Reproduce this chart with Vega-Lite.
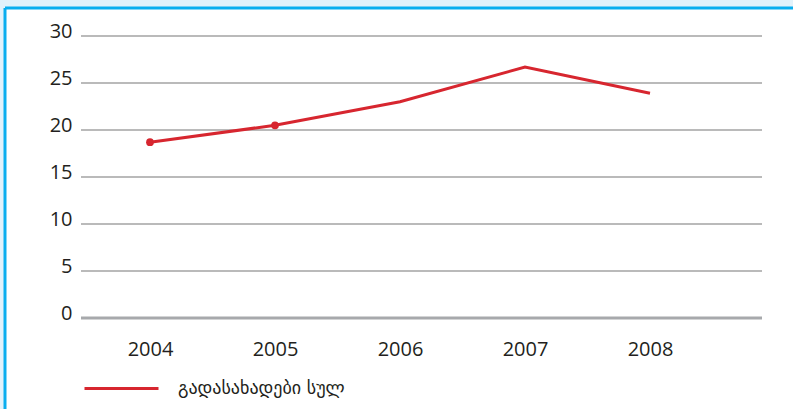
{
  "$schema": "https://vega.github.io/schema/vega-lite/v6.json",
  "width": 788.5,
  "height": 401.5,
  "autosize": {"type": "none"},
  "padding": {"left": 4.5, "top": 7.5, "right": 0, "bottom": 0},
  "background": "#e2f2fb",
  "config": {
    "view": {"fill": "white", "stroke": null},
    "axis": {"labelColor": "#231f20", "labelFont": "Open Sans", "labelFontSize": 20, "title": null, "ticks": false, "grid": false, "labelFlush": false, "labelOverlap": false}
  },
  "datasets": {
    "taxes": [
      {"year": 2004, "value": 18.7},
      {"year": 2005, "value": 20.5},
      {"year": 2006, "value": 23.0},
      {"year": 2007, "value": 26.7},
      {"year": 2008, "value": 23.9}
    ],
    "grid": [{"v": 0}, {"v": 5}, {"v": 10}, {"v": 15}, {"v": 20}, {"v": 25}, {"v": 30}]
  },
  "layer": [
    {
      "data": {"name": "grid"},
      "transform": [{"filter": "datum.v > 0"}],
      "mark": {"type": "rule", "color": "#a3a3a3", "strokeWidth": 1.5},
      "encoding": {
        "y": {
          "field": "v", "type": "quantitative",
          "scale": {"domain": [-9.681, 33.032], "nice": false, "zero": false},
          "axis": {"orient": "left", "values": [0, 5, 10, 15, 20, 25, 30], "labelPadding": -67.5, "labelAlign": "right", "labelBaseline": "alphabetic", "labelOffset": 1.5, "domain": true, "domainColor": "#0aaeef", "domainWidth": 3}
        },
        "x": {
          "datum": 2003.448, "type": "quantitative",
          "scale": {"domain": [2002.836, 2009.144], "nice": false, "zero": false},
          "axis": {"orient": "top", "values": [2004, 2005, 2006, 2007, 2008], "format": "d", "labelPadding": -332, "labelBaseline": "top", "labelAlign": "center", "domain": true, "domainColor": "#0aaeef", "domainWidth": 3}
        },
        "x2": {"datum": 2008.896}
      }
    },
    {
      "data": {"name": "grid"},
      "transform": [{"filter": "datum.v == 0"}],
      "mark": {"type": "rule", "color": "#a7a9ac", "strokeWidth": 3},
      "encoding": {
        "y": {"field": "v", "type": "quantitative"},
        "x": {"datum": 2003.448, "type": "quantitative"},
        "x2": {"datum": 2008.896}
      }
    },
    {
      "data": {"name": "taxes"},
      "mark": {"type": "line", "strokeWidth": 3},
      "encoding": {
        "x": {"field": "year", "type": "quantitative"},
        "y": {"field": "value", "type": "quantitative"},
        "color": {
          "datum": "გადასახადები სულ",
          "type": "nominal",
          "scale": {"range": ["#d7262f"]},
          "legend": {"orient": "none", "legendX": 78.5, "legendY": 342.5, "title": null, "padding": 0, "symbolType": "stroke", "symbolSize": 5476, "symbolStrokeWidth": 3, "labelOffset": 18, "labelFont": "DejaVu Sans", "labelFontSize": 18, "labelColor": "#231f20", "labelLimit": 400}
        }
      }
    },
    {
      "data": {"name": "taxes"},
      "transform": [{"filter": "datum.year <= 2005"}],
      "mark": {"type": "point", "filled": true, "opacity": 1, "size": 60, "color": "#d7262f"},
      "encoding": {
        "x": {"field": "year", "type": "quantitative"},
        "y": {"field": "value", "type": "quantitative"}
      }
    }
  ]
}
